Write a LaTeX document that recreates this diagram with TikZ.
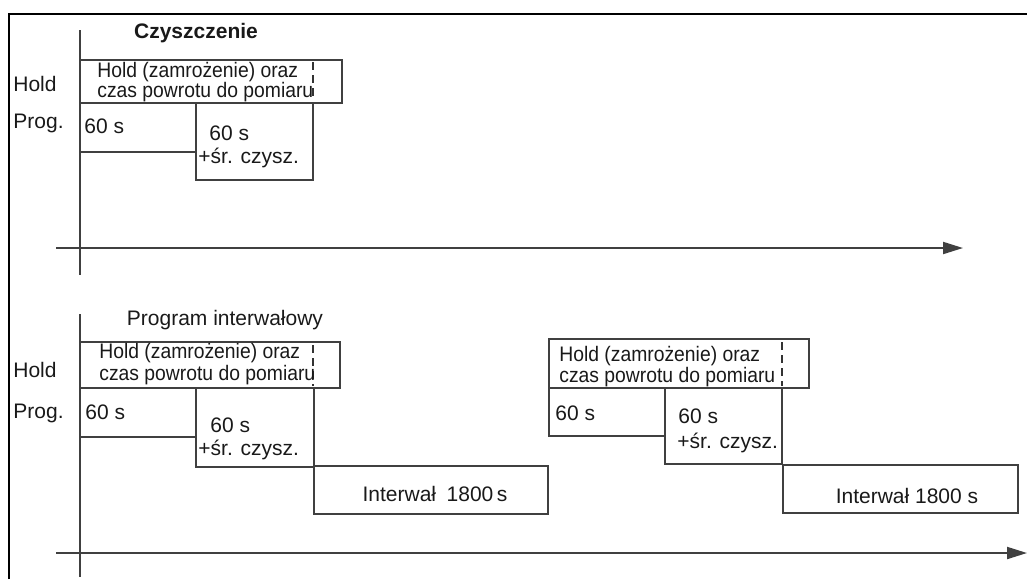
\documentclass[tikz,border=0pt]{standalone}
\usepackage{fontspec}
\setmainfont{Liberation Sans}
\newfontfamily\holdfont{Liberation Sans}[FakeStretch=0.92]
\usetikzlibrary{arrows.meta}
\tikzset{
  box/.style={draw=black!75, line width=0.75pt},
  txt/.style={inner sep=0pt, anchor=base west, text=black!90},
  holdtxt/.style={txt, font=\holdfont\fontsize{10.5}{12}\selectfont},
  holdmark/.style={draw=black!80, line width=0.75pt, dash pattern=on 4pt off 2.5pt},
  timeaxis/.style={draw=black!75, line width=1pt, -{Triangle[length=10pt,width=6pt]}},
}
\begin{document}
\begin{tikzpicture}[x=0.5pt,y=-0.5pt,font=\fontsize{10.5}{12}\selectfont]
  \useasboundingbox (0,0) rectangle (1027,579);
  % frame
  \draw[line width=0.8pt] (9,579) -- (9,14) -- (1027,14);

  % --- cleaning cycle ---
  \coordinate (vtop1) at (80,30);
  \coordinate (vbot1) at (80,275);
  \draw[box] (vtop1) -- (vbot1);
  \node[txt, anchor=base, font=\bfseries\fontsize{10.5}{12}\selectfont] (title1) at (196,38) {Czyszczenie};
  \node[txt] (hold1) at (13,91) {Hold};
  \node[txt] (prog1) at (13,128) {Prog.};
  \draw[box] (80,60) rectangle (342,103);
  \draw[holdmark] (313,62) -- (313,100);
  \node[holdtxt] (holdA1) at (97,77) {Hold (zamrożenie) oraz};
  \node[holdtxt] (holdB1) at (97,97) {czas powrotu do pomiaru};
  \draw[box] (80,103) rectangle (196,152);
  \node[txt] (wait1) at (84,133) {60 s};
  \draw[box] (196,103) rectangle (313,180);
  \node[txt] (clean1) at (209,140) {60 s};
  \node[txt] (cleanB1) at (198,163) {+śr. czysz.};
  \coordinate (t1start) at (56,248);
  \coordinate (t1end) at (963,248);
  \draw[timeaxis] (t1start) -- (t1end);

  % --- interval program ---
  \coordinate (vtop2) at (80,314);
  \coordinate (vbot2) at (80,577);
  \draw[box] (vtop2) -- (vbot2);
  \node[txt, anchor=base] (title2) at (225,325) {Program interwałowy};
  \node[txt] (hold2) at (13,377) {Hold};
  \node[txt] (prog2) at (13,418) {Prog.};
  % first cycle
  \draw[box] (80,342) rectangle (340,388);
  \draw[holdmark] (313,345) -- (313,386);
  \node[holdtxt] (holdA2) at (99,358) {Hold (zamrożenie) oraz};
  \node[holdtxt] (holdB2) at (99,380) {czas powrotu do pomiaru};
  \draw[box] (80,388) rectangle (196,437);
  \node[txt] (wait2) at (85,419) {60 s};
  \draw[box] (196,388) rectangle (314,467);
  \node[txt] (clean2) at (210,432) {60 s};
  \node[txt] (cleanB2) at (198,455) {+śr. czysz.};
  \draw[box] (314,466) rectangle (548,514);
  \node[txt, anchor=base] (pause2) at (435,501) {Interwał\enspace 1800\,s};
  % second cycle
  \draw[box] (549,339) rectangle (809,388);
  \draw[holdmark] (782,342) -- (782,386);
  \node[holdtxt] (holdA3) at (559,361) {Hold (zamrożenie) oraz};
  \node[holdtxt] (holdB3) at (559,382) {czas powrotu do pomiaru};
  \draw[box] (549,388) rectangle (665,436);
  \node[txt] (wait3) at (555,420) {60 s};
  \draw[box] (665,388) rectangle (782,464);
  \node[txt] (clean3) at (678,423) {60 s};
  \node[txt] (cleanB3) at (677,448) {+śr. czysz.};
  \draw[box] (783,465) rectangle (1018,513);
  \node[txt, anchor=base] (pause3) at (907,503) {Interwał 1800 s};
  \coordinate (t2start) at (56,553);
  \coordinate (t2end) at (1027,553);
  \draw[timeaxis] (t2start) -- (t2end);
\end{tikzpicture}
\end{document}
